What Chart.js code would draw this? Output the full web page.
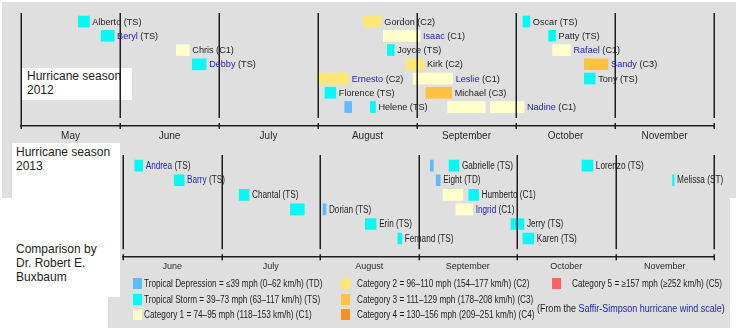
<!DOCTYPE html>
<html>
<head>
<meta charset="utf-8">
<script src="https://cdn.jsdelivr.net/npm/chart.js@4"></script>
<style>
  body { margin: 0; background: #fff; }
  #wrap { position: relative; width: 736px; height: 331px; overflow: hidden; background: #fff; font-family: 'Liberation Sans', Arial, sans-serif; color: #1e1e1e; }
  .box { position: absolute; }
  .gray { background: #dfdfdf; }
  .white { background: #fff; }
  .note { position: absolute; font-size: 12px; line-height: 14px; white-space: nowrap; }
  canvas { position: absolute; left: 0; }
  .sq { position: absolute; width: 9px; height: 11px; }
  .lg { position: absolute; font-size: 10px; line-height: 12px; white-space: nowrap; transform: scaleX(0.82); transform-origin: left center; }
  .lg a { color: #2323b4; text-decoration: none; }
  #src { transform: scaleX(0.9); transform-origin: right center; }
</style>
</head>
<body>
<div id="wrap">
  <div class="box gray" style="left:2px;top:2px;width:734px;height:196px"></div>
  <div class="box gray" style="left:120px;top:143px;width:610px;height:185px"></div>
  <div class="box gray" style="left:108px;top:297px;width:622px;height:31px"></div>
  <div class="box white" style="left:12px;top:143px;width:108px;height:55px"></div>
  <div class="box white" style="left:22px;top:68px;width:110px;height:32px"></div>
  <div class="note" style="left:27px;top:69px">Hurricane season<br>2012</div>
  <div class="note" style="left:16px;top:145px">Hurricane season<br>2013</div>
  <div class="note" style="left:16px;top:242px">Comparison by<br>Dr. Robert E.<br>Buxbaum</div>
  <canvas id="c2012" width="736" height="150" style="top:0"></canvas>
  <canvas id="c2013" width="736" height="140" style="top:140px"></canvas>
  <div id="legend"></div>
</div>
<script>
// month labels under each timeline
const MONTHS_2012 = ['May', 'June', 'July', 'August', 'September', 'October', 'November'];
const MONTHS_2013 = ['June', 'July', 'August', 'September', 'October', 'November'];
const FIRST_MONTH_2012 = 5;
const FIRST_MONTH_2013 = 6;

// 2012 storms: row, start / end as month number (5 = 1 May), colour category, label
const rows2012   = [0, 0, 0, 1, 1, 1, 2, 2, 2, 3, 3, 3, 4, 4, 4, 5, 5, 6, 6, 6, 6];
const starts2012 = [5.58, 8.46, 10.07, 5.81, 8.66, 10.33, 6.57, 8.70, 10.37, 6.73, 8.89, 10.69, 8.00, 8.96, 10.69, 8.07, 9.09, 8.27, 8.53, 9.31, 9.74];
const ends2012   = [5.69, 8.64, 10.14, 5.94, 9.03, 10.40, 6.70, 8.77, 10.55, 6.87, 9.07, 10.93, 8.31, 9.36, 10.80, 8.18, 9.35, 8.34, 8.58, 9.69, 10.08];
const cats2012   = ['TS', 'C2', 'TS', 'TS', 'C1', 'TS', 'C1', 'TS', 'C1', 'TS', 'C2', 'C3', 'C2', 'C1', 'TS', 'TS', 'C3', 'TD', 'TS', 'C1', 'C1'];
const names2012  = ['Alberto', 'Gordon', 'Oscar', 'Beryl', 'Isaac', 'Patty', 'Chris', 'Joyce', 'Rafael', 'Debby', 'Kirk', 'Sandy',
                    'Ernesto', 'Leslie', 'Tony', 'Florence', 'Michael', '', 'Helene', '', 'Nadine'];
const tags2012   = ['TS', 'C2', 'TS', 'TS', 'C1', 'TS', 'C1', 'TS', 'C1', 'TS', 'C2', 'C3', 'C2', 'C1', 'TS', 'TS', 'C3', '', 'TS', '', 'C1'];
const linked2012 = [0, 0, 0, 1, 1, 0, 0, 0, 1, 1, 0, 1, 1, 1, 0, 0, 0, 0, 0, 0, 1];

// 2013 storms
const rows2013   = [0, 0, 0, 0, 1, 1, 1, 2, 2, 2, 3, 3, 3, 4, 4, 5, 5];
const starts2013 = [6.12, 9.12, 9.31, 10.66, 6.52, 9.18, 11.58, 7.18, 9.25, 9.51, 7.70, 8.03, 9.38, 8.46, 9.94, 8.79, 10.06];
const ends2013   = [6.20, 9.15, 9.41, 10.77, 6.62, 9.22, 11.595, 7.28, 9.45, 9.61, 7.84, 8.06, 9.55, 8.57, 10.07, 8.83, 10.17];
const cats2013   = ['TS', 'TD', 'TS', 'TS', 'TS', 'TD', 'TS', 'TS', 'C1', 'TS', 'TS', 'TD', 'C1', 'TS', 'TS', 'TS', 'TS'];
const names2013  = ['Andrea', '', 'Gabrielle', 'Lorenzo', 'Barry', 'Eight', 'Melissa', 'Chantal', '', 'Humberto', '', 'Dorian',
                    'Ingrid', 'Erin', 'Jerry', 'Fernand', 'Karen'];
const tags2013   = ['TS', '', 'TS', 'TS', 'TS', 'TD', 'ST', 'TS', '', 'C1', '', 'TS', 'C1', 'TS', 'TS', 'TS', 'TS'];
const linked2013 = [1, 0, 0, 0, 1, 0, 0, 0, 0, 0, 0, 0, 1, 0, 0, 0, 0];

// legend
const LEGEND_CATS = ['TD', 'TS', 'C1', 'C2', 'C3', 'C4', 'C5'];
const LEGEND_TEXT = [
  'Tropical Depression = ≤39 mph (0–62 km/h) (TD)',
  'Tropical Storm = 39–73 mph (63–117 km/h) (TS)',
  'Category 1 = 74–95 mph (118–153 km/h) (C1)',
  'Category 2 = 96–110 mph (154–177 km/h) (C2)',
  'Category 3 = 111–129 mph (178–208 km/h) (C3)',
  'Category 4 = 130–156 mph (209–251 km/h) (C4)',
  'Category 5 = ≥157 mph (≥252 km/h) (C5)'
];

const COLORS = { TD: '#5ebaff', TS: '#00faf4', C1: '#ffffcc', C2: '#ffe775', C3: '#ffc140', C4: '#ff8f20', C5: '#ff6060' };
const TEXT = '#1e1e1e';
const LINK = '#2323b4';
const FAMILY = "'Liberation Sans', Arial, sans-serif";

// vertical month lines + small ticks on the axis
const monthLines = {
  id: 'monthLines',
  afterDatasetsDraw(chart, args, opts) {
    const { ctx, chartArea: a, scales: { x } } = chart;
    ctx.save();
    ctx.strokeStyle = TEXT;
    ctx.lineWidth = 1.5;
    for (let m = x.min; m <= x.max; m++) {
      const px = Math.round(x.getPixelForValue(m)) + 0.25;
      const bottom = (m === x.min && opts.corner) ? a.bottom : a.bottom - opts.gap;
      ctx.beginPath();
      ctx.moveTo(px, a.top);
      ctx.lineTo(px, bottom);
      ctx.moveTo(px, a.bottom - 3);
      ctx.lineTo(px, a.bottom + 3);
      ctx.stroke();
    }
    ctx.restore();
  }
};

// storm names written right after the bar (squeeze < 1 gives a narrow face)
function stormLabels(set) {
  return {
    id: 'stormLabels',
    afterDatasetsDraw(chart) {
      const { ctx, scales: { x, y } } = chart;
      ctx.save();
      ctx.font = set.font;
      ctx.textBaseline = 'middle';
      set.names.forEach((name, i) => {
        if (!name) return;
        const px = x.getPixelForValue(set.ends[i]) + 3;
        const py = y.getPixelForValue(set.rows[i]) + 0.5;
        ctx.save();
        ctx.translate(px, py);
        ctx.scale(set.squeeze, 1);
        ctx.fillStyle = set.linked[i] ? LINK : TEXT;
        ctx.fillText(name, 0, 0);
        ctx.fillStyle = TEXT;
        ctx.fillText('(' + set.tags[i] + ')', ctx.measureText(name + ' ').width, 0);
        ctx.restore();
      });
      ctx.restore();
    }
  };
}

function timeline(id, set) {
  const months = set.months;
  return new Chart(document.getElementById(id), {
    type: 'bar',
    data: {
      datasets: [{
        data: set.rows.map((r, i) => ({ x: [set.starts[i], set.ends[i]], y: r })),
        backgroundColor: set.cats.map(c => COLORS[c]),
        borderWidth: 0,
        barThickness: 11
      }]
    },
    options: {
      indexAxis: 'y',
      responsive: false,
      animation: false,
      layout: { padding: set.padding },
      plugins: {
        legend: { display: false },
        tooltip: { enabled: false },
        monthLines: { gap: 8, corner: set.corner }
      },
      scales: {
        x: {
          type: 'linear',
          min: set.first,
          max: set.first + months.length,
          grid: { display: false, drawTicks: false },
          border: { display: true, color: TEXT, width: 1.5 },
          afterBuildTicks: axis => {
            axis.ticks = months.map((m, i) => ({ value: set.first + i + 0.5 }));
          },
          ticks: {
            autoSkip: false,
            maxRotation: 0,
            padding: 4,
            color: '#2a2a2a',
            font: { family: FAMILY, size: set.tickSize },
            callback: (v, i) => months[i]
          }
        },
        y: { type: 'linear', reverse: true, offset: false, min: set.yMin, max: set.yMax, display: false }
      }
    },
    plugins: [monthLines, stormLabels(set)]
  });
}

timeline('c2012', {
  months: MONTHS_2012, first: FIRST_MONTH_2012,
  rows: rows2012, starts: starts2012, ends: ends2012, cats: cats2012,
  names: names2012, tags: tags2012, linked: linked2012,
  font: '9.5px ' + FAMILY, squeeze: 0.96, tickSize: 10,
  padding: { left: 21, right: 22, top: 13, bottom: 4 },
  yMin: -0.6, yMax: 7.33, corner: true
});

timeline('c2013', {
  months: MONTHS_2013, first: FIRST_MONTH_2013,
  rows: rows2013, starts: starts2013, ends: ends2013, cats: cats2013,
  names: names2013, tags: tags2013, linked: linked2013,
  font: '10px ' + FAMILY, squeeze: 0.82, tickSize: 9,
  padding: { left: 123, right: 22, top: 15, bottom: 4 },
  yMin: -0.73, yMax: 6.28, corner: false
});

// legend: three columns of colour squares
const legend = document.getElementById('legend');
const colX = [133, 341, 552];
const textGap = [11, 16, 20];
LEGEND_CATS.forEach((c, i) => {
  const col = Math.floor(i / 3), row = i % 3;
  const top = 278 + row * 15.5;
  const sq = document.createElement('div');
  sq.className = 'sq';
  sq.style.background = COLORS[c];
  sq.style.left = colX[col] + 'px';
  sq.style.top = top + 'px';
  legend.appendChild(sq);
  const t = document.createElement('div');
  t.className = 'lg';
  t.textContent = LEGEND_TEXT[i];
  t.style.left = (colX[col] + textGap[col]) + 'px';
  t.style.top = top + 'px';
  legend.appendChild(t);
});
const src = document.createElement('div');
src.className = 'lg';
src.id = 'src';
src.style.right = '11px';
src.style.top = '303px';
src.innerHTML = '(From the <a>Saffir-Simpson hurricane wind scale</a>)';
legend.appendChild(src);
</script>
</body>
</html>
